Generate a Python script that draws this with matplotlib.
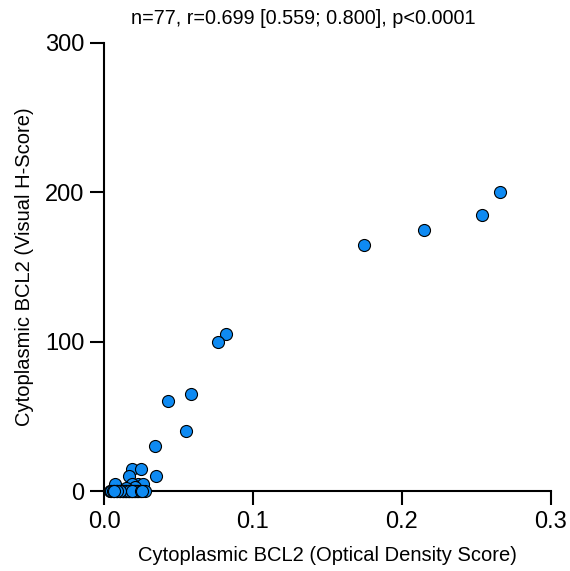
import matplotlib
matplotlib.use("Agg")
import matplotlib.pyplot as plt

plt.rcParams["font.family"] = ["Liberation Sans", "DejaVu Sans"]

# points with a non-zero visual score
od_pos = [0.266, 0.254, 0.215, 0.1745, 0.082, 0.0765, 0.0585, 0.043, 0.055,
          0.034, 0.035, 0.0185, 0.0248, 0.017, 0.0074, 0.023, 0.0264, 0.0185,
          0.021, 0.015]
h_pos = [200, 185, 175, 165, 105, 100, 65, 60, 40,
         30, 10, 15, 15, 10, 5, 5, 5, 5,
         3, 2]

# points scored 0 by eye
od_zero = [0.004, 0.005, 0.006, 0.007, 0.008, 0.009, 0.010, 0.011, 0.012,
           0.013, 0.014, 0.015, 0.016, 0.017, 0.018, 0.019, 0.020, 0.021,
           0.022, 0.023, 0.024, 0.025, 0.026, 0.0275, 0.005, 0.0065, 0.0085,
           0.0105, 0.0125, 0.0135, 0.0145, 0.0155, 0.0165, 0.0175, 0.0185,
           0.0195, 0.0205, 0.0215, 0.0225, 0.0235, 0.006, 0.008, 0.010,
           0.012, 0.014, 0.016, 0.018, 0.020, 0.022, 0.013, 0.015, 0.017,
           0.019, 0.011, 0.009, 0.0245, 0.0255, 0.007]
h_zero = [0] * len(od_zero)

od = od_pos + od_zero
h = h_pos + h_zero

fig = plt.figure(figsize=(5.7, 5.71), dpi=100)
ax = fig.add_axes([0.1825, 0.140, 0.784, 0.785])

ax.scatter(od, h, s=75, color="#0e8af2", edgecolor="black", linewidth=0.8,
           zorder=3, clip_on=False)

ax.set_xlim(0, 0.3)
ax.set_ylim(0, 300)
ax.set_xticks([0, 0.1, 0.2, 0.3])
ax.set_xticklabels(["0.0", "0.1", "0.2", "0.3"])
ax.set_yticks([0, 100, 200, 300])

for side in ("top", "right"):
    ax.spines[side].set_visible(False)
for side in ("left", "bottom"):
    ax.spines[side].set_linewidth(1.5)
ax.tick_params(direction="out", length=10, width=1.5, labelsize=17, pad=4)

ax.set_xlabel("Cytoplasmic BCL2 (Optical Density Score)", fontsize=14.5, labelpad=10)
ax.set_ylabel("Cytoplasmic BCL2 (Visual H-Score)", fontsize=14.5, labelpad=8)
fig.text(0.532, 0.968, "n=77, r=0.699 [0.559; 0.800], p<0.0001",
         ha="center", va="center", fontsize=14.3)

fig.savefig("out.png", dpi=100)
